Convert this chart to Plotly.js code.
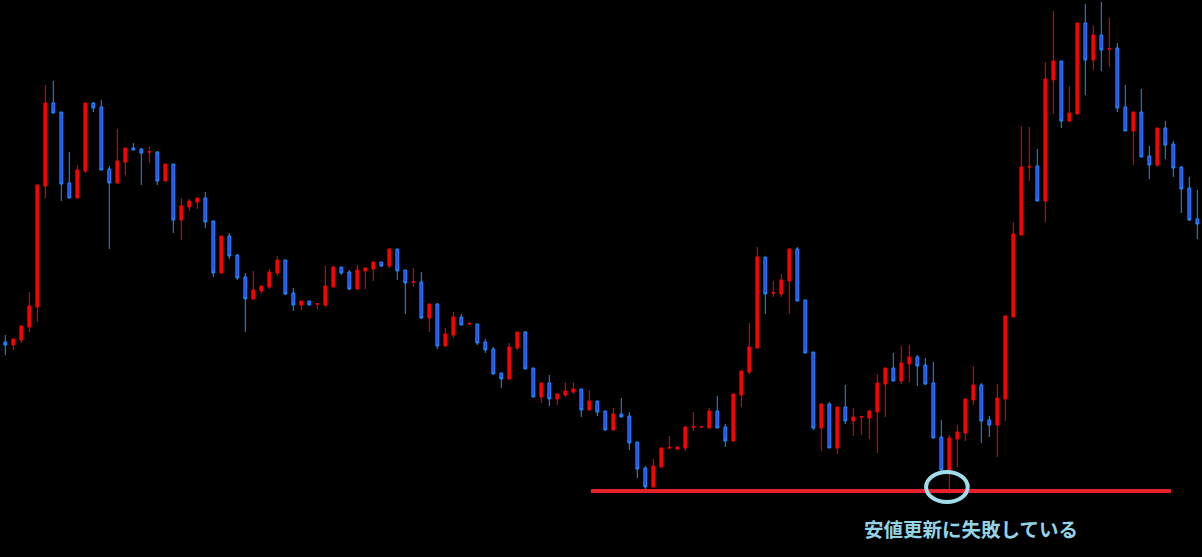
<!DOCTYPE html>
<html>
<head>
<meta charset="utf-8">
<script src="https://cdn.plot.ly/plotly-3.0.1.min.js"></script>
<style>
html,body{margin:0;padding:0;background:#000;}
#chart{width:1202px;height:557px;}
</style>
</head>
<body>
<div id="chart"></div>
<script>
// Candle index (time order)
var idx = [];
for (var k = 0; k < 150; k++) idx.push(k);

var openP = [218,215,220,233,253,374,457,448,377,362,389,457,453,391,377,398,412,411,408,408,379,396,340,353,358,362,339,287,324,305,
283,261,269,273,287,300,267,255,259,256,255,273,293,288,271,289,291,298,294,311,290,278,278,242,256,214,225,243,236,236,
218,211,187,181,212,228,192,163,177,161,165,168,171,150,159,149,130,146,144,118,92,73,93,112,111,112,133,133,132,149,
133,119,165,188,212,303,267,266,279,311,260,208,132,156,112,153,139,143,142,148,176,192,179,196,203,195,177,123,90,121,
127,160,175,140,135,161,243,325,393,394,359,480,499,439,446,537,500,525,511,512,453,429,448,404,395,432,416,393,372,341];

var highP = [225,221,235,268,375,475,479,448,408,395,457,458,460,394,431,412,417,412,413,409,396,396,362,361,362,368,339,324,327,306,
287,289,274,291,304,300,272,259,259,256.5,294,294,293,290,295,292,298,298,311,311,290,292,288,256,257,232,248,246,238,236,
221,213,187,217,228,229,192,177,185,166,178,178,171,170,159,149,152,162,148,118,94,101,112,124,113,134,148,133.2,152,164,
136,166,189,237,313,303,279,286,311,313,260,208,157,158,153,175,152,143.2,150,186,192,207,214,215,205,202,198,140,125,135,
161,194,177,144,176,245,338,434,433,411,498,549,499,474,537,556,534,558,542,517,475,448,471,414,432,439,419,394,383,370];

var lowP = [205,210,217,228,238,362,447,359,362,362,387,448,390,311,377,385,410,375,397,375,379,327,320,349,351,332,283,287,301,280,
228,261,266,271,284,265,249,250,255,251,253,273,285,270,271,271,279,293,292,280,246,273,241,228,211,214,222,235,236,215,
207,186,172,181,210,191,163,157,154,155,163,166,143,150,144,130,130,143,110,82,71,73,93,112,111,109,129,133,132,132,
113,119,153,186,212,246,263,263,246,259,207,130,109,112,106,136,124,125,121,107,143,179,176,178,174,175,122,89,66,93,
119,155,117,123,103,139,243,325,379,359,338,446,432,438,446,465,490,489,493,448,429,395,403,381,393,401,383,347,339,321];

var closeP = [215,221,234,254,375,457,447,376,362,390,457,452,390,377,399,412,410,407,408.2,379,396,340,354,359,362,338,287,324,304,282,
261,270,274,288,300,266,255,259,255,256.2,274,293,287,271,290,292,298,294,311,289,277,278.2,242,256,214,226,243,235,236.2,217,
210,186,181,213,228,191,163,177,161,166,169,171,150,159,148,130,146,143,117,91,73,94,112,112.2,113,133,133.2,133.2,149,132,
119,166,189,213,303,266,267.2,280,311,259,207,132,156,112,153,139,143,143.2,149,177,192,179,197,203,194,176,122,90,122,128,
161,175,139,135,162,244,326,393,393.2,359,481,499,439,447,537,500,525,510,511.2,452,429,448,403,395,432,415,392,371,340,336];

// Support line and note
var supportLevel = 69;
var supportFrom = 73.2, supportTo = 145.7;
var noteText = '安値更新に失敗している';
var circleX = 117.7, circleY = 73;

var trace = {
  type: 'candlestick',
  x: idx, open: openP, high: highP, low: lowP, close: closeP,
  increasing: {line: {color: '#FF0000', width: 1}, fillcolor: '#FF0000'},
  decreasing: {line: {color: '#1E90FF', width: 1}, fillcolor: '#3C3CFF'},
  whiskerwidth: 0,
  hoverinfo: 'skip',
  showlegend: false
};

var layout = {
  width: 1202, height: 557,
  paper_bgcolor: '#000000', plot_bgcolor: '#000000',
  margin: {l: 0, r: 0, t: 0, b: 0},
  boxgap: 0.5,
  showlegend: false,
  xaxis: {range: [-0.6625, 149.5875], visible: false, showgrid: false, zeroline: false, rangeslider: {visible: false}, fixedrange: true},
  yaxis: {range: [3, 560], visible: false, showgrid: false, zeroline: false, fixedrange: true},
  shapes: [
    {type: 'line', xref: 'x', yref: 'y', x0: supportFrom, x1: supportTo, y0: supportLevel, y1: supportLevel,
     line: {color: '#E62129', width: 4}, layer: 'above'},
    {type: 'circle', xref: 'x', yref: 'y', x0: circleX - 2.6, x1: circleX + 2.6, y0: circleY - 15, y1: circleY + 15,
     line: {color: '#A0DCEA', width: 4}, layer: 'above'}
  ],
  annotations: [
    {text: '<b>' + noteText + '</b>', xref: 'paper', yref: 'paper', x: 971.5/1202, y: 1 - 528/557,
     xanchor: 'center', yanchor: 'middle', showarrow: false,
     font: {family: 'Noto Sans CJK JP', size: 19.5, color: '#93D3E6'}}
  ]
};

Plotly.newPlot('chart', [trace], layout, {staticPlot: true, displayModeBar: false});
</script>
</body>
</html>
